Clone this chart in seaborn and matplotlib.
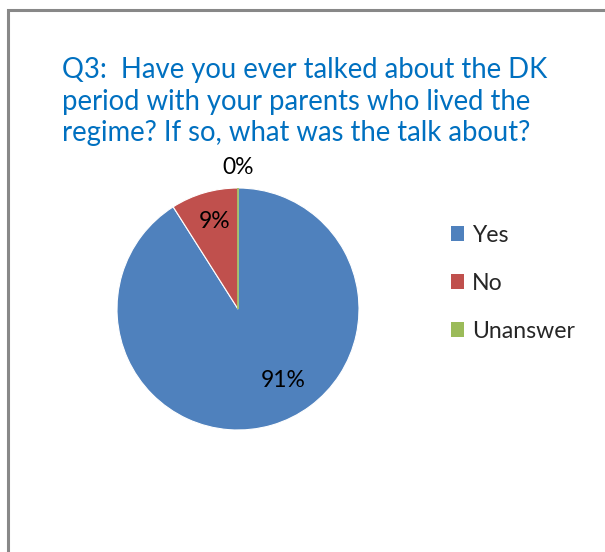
import matplotlib
matplotlib.use("Agg")
import matplotlib.pyplot as plt
import matplotlib.patches as mpatches
import seaborn as sns

# %% data

categories = ["Yes", "No", "Unanswer"]
values = [91, 9, 0]
pct_labels = ["91%", "9%", "0%"]
title = ("Q3:  Have you ever talked about the DK\n"
         "period with your parents who lived the\n"
         "regime? If so, what was the talk about?")

# %% style

sns.set_theme(style="white")
plt.rcParams["font.family"] = ["Lato", "DejaVu Sans"]
colors = ["#4F81BD", "#C0504D", "#9BBB59"]

fig = plt.figure(figsize=(6.05, 5.52), dpi=100)
fig.patch.set_facecolor("white")

# chart border (Excel chart area)
border = mpatches.Rectangle((8 / 605, -0.05), 1.2, 1 - 10 / 552 + 0.05,
                            transform=fig.transFigure, fill=False,
                            edgecolor="#888888", linewidth=2.2)
fig.add_artist(border)

fig.text(62 / 605, 1 - 57 / 552, title, color="#0070C0", fontsize=19.8,
         ha="left", va="top", linespacing=1.27)

# %% pie

ax = fig.add_axes([117 / 605, 122 / 552, 242 / 605, 242 / 552])
wedges, _ = ax.pie(values, colors=colors, startangle=90, counterclock=False,
                   radius=1.0,
                   wedgeprops=dict(linewidth=0.8, edgecolor="white"))
wedges[2].set_edgecolor(colors[2])
wedges[2].set_linewidth(1.2)
wedges[2].set_zorder(5)
ax.set_xlim(-1, 1)
ax.set_ylim(-1, 1)
ax.set_aspect("equal")
ax.axis("off")

label_pos = [(0.37, -0.59), (-0.19, 0.72), (0.0, 1.17)]
for (x, y), lab in zip(label_pos, pct_labels):
    ax.text(x, y, lab, ha="center", va="center", fontsize=16.5, color="black")

# %% legend

handles = [mpatches.Patch(facecolor=c, edgecolor="none", label=l)
           for c, l in zip(colors, categories)]
fig.legend(handles=handles, loc="upper left",
           bbox_to_anchor=(430 / 605, 1 - 204 / 552), frameon=False,
           fontsize=16.6, handlelength=0.58, handleheight=0.58,
           handletextpad=0.35, labelspacing=1.17)

fig.savefig("out.png", dpi=100, facecolor="white")
